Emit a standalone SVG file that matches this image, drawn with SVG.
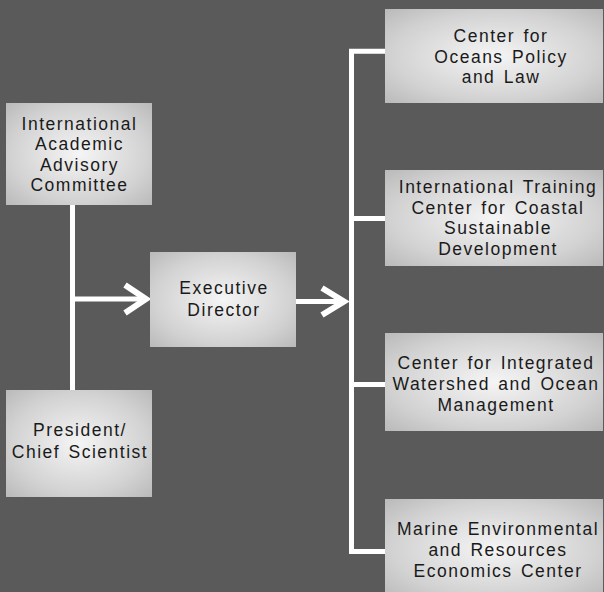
<svg xmlns="http://www.w3.org/2000/svg" width="604" height="592" viewBox="0 0 604 592">
<defs>
<radialGradient id="g" cx="0.5" cy="0.5" r="0.72">
<stop offset="0" stop-color="#f5f5f5"/>
<stop offset="0.65" stop-color="#d2d2d2"/>
<stop offset="1" stop-color="#b8b8b8"/>
</radialGradient>
<style>
.box{fill:url(#g)}
text{font-family:"Liberation Sans",Arial,sans-serif;font-size:17.5px;fill:#1a1a1a;text-anchor:middle;letter-spacing:1.5px;word-spacing:2px}
.c{fill:none;stroke:#fff;stroke-width:5;stroke-linecap:butt}
.ah{fill:none;stroke:#fff;stroke-width:6;stroke-linejoin:miter}
</style>
</defs>
<rect width="604" height="592" fill="#5a5a5a"/>
<g id="connectors">
<path class="c" d="M72.5,205 V390"/>
<path class="c" d="M75,299 H145"/>
<polyline class="ah" points="125,285 146,299 125,313"/>
<path class="c" d="M296,301.5 H344"/>
<polyline class="ah" points="322,288 344,301.5 322,315"/>
<path class="c" d="M386,51.3 H351.5 V551.5 H386"/>
<path class="c" d="M351.5,218.5 H386"/>
<path class="c" d="M351.5,384.5 H386"/>
</g>
<g id="iaac">
<rect class="box" x="6" y="103" width="146" height="102"/>
<text x="79.5" y="129.5">International</text>
<text x="79.5" y="150">Academic</text>
<text x="79.5" y="170.5">Advisory</text>
<text x="79.5" y="191">Committee</text>
</g>
<g id="president">
<rect class="box" x="6" y="390" width="146" height="107"/>
<text x="80" y="436">President/</text>
<text x="80" y="457.5">Chief Scientist</text>
</g>
<g id="executive">
<rect class="box" x="150" y="252" width="146" height="95"/>
<text x="224" y="294">Executive</text>
<text x="224" y="315.5">Director</text>
</g>
<g id="oceans">
<rect class="box" x="385" y="9" width="218" height="94"/>
<text x="501" y="42">Center for</text>
<text x="501" y="62.5">Oceans Policy</text>
<text x="501" y="83">and Law</text>
</g>
<g id="training">
<rect class="box" x="385" y="170" width="218" height="96"/>
<text x="498" y="193">International Training</text>
<text x="498" y="213.5">Center for Coastal</text>
<text x="498" y="234">Sustainable</text>
<text x="498" y="254.5">Development</text>
</g>
<g id="watershed">
<rect class="box" x="385" y="333" width="218" height="98"/>
<text x="496" y="369">Center for Integrated</text>
<text x="496" y="390">Watershed and Ocean</text>
<text x="496" y="410.5">Management</text>
</g>
<g id="marine">
<rect class="box" x="385" y="499" width="218" height="100"/>
<text x="498" y="534.5">Marine Environmental</text>
<text x="498" y="555.5">and Resources</text>
<text x="498" y="576.5">Economics Center</text>
</g>
</svg>
